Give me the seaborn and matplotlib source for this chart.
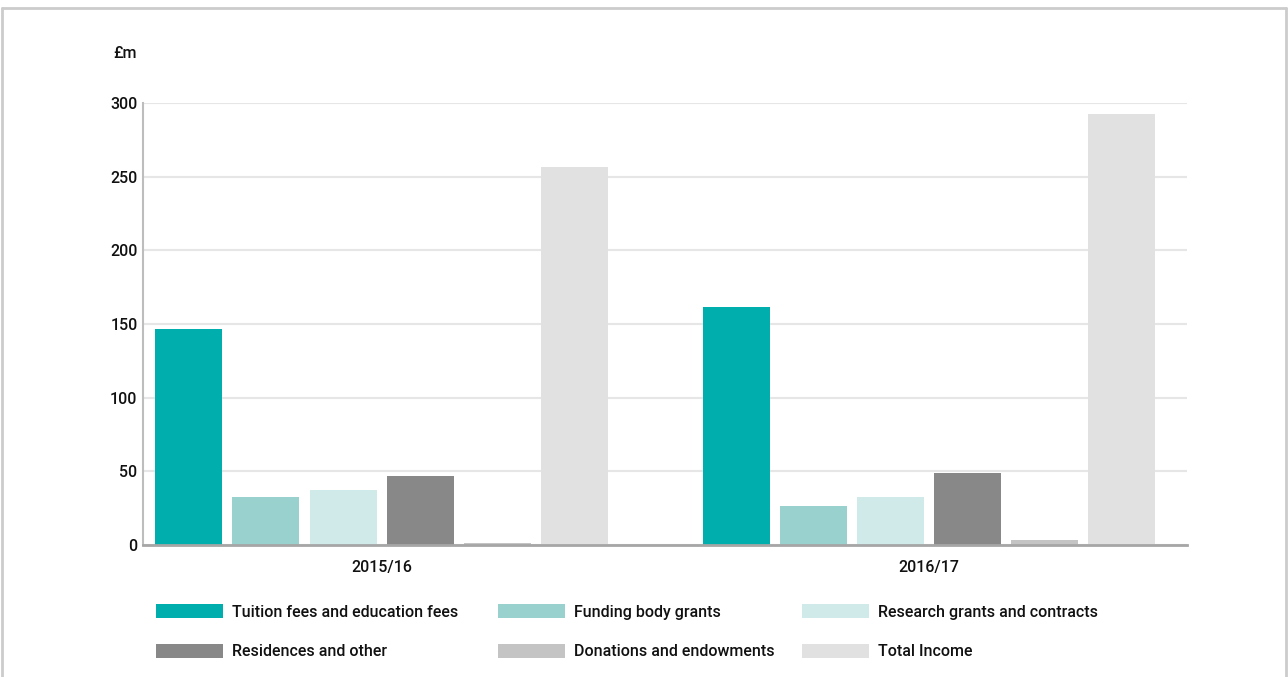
import matplotlib
matplotlib.use("Agg")
import matplotlib.pyplot as plt
from matplotlib.patches import Patch
from matplotlib.lines import Line2D
import seaborn as sns
import pandas as pd

years = ["2015/16", "2016/17"]
categories = [
    "Tuition fees and education fees",
    "Funding body grants",
    "Research grants and contracts",
    "Residences and other",
    "Donations and endowments",
    "Total Income",
]
tuition = [146.3, 161.5]
funding = [32.7, 26.5]
research = [37.0, 32.7]
residences = [46.9, 48.8]
donations = [1.2, 3.1]
total = [256.4, 292.4]
y_ticks = [0, 50, 100, 150, 200, 250, 300]
unit_label = "£m"

colors = ["#00AFAD", "#99D1CF", "#D0E9E9", "#888888", "#C4C4C4", "#E1E1E1"]

series = [tuition, funding, research, residences, donations, total]
rows = []
for cat, vals in zip(categories, series):
    for yr, v in zip(years, vals):
        rows.append({"year": yr, "category": cat, "value": v})
df = pd.DataFrame(rows)

sns.set_theme(style="white")
plt.rcParams["font.family"] = ["Roboto", "DejaVu Sans"]
plt.rcParams["font.weight"] = 500

fig = plt.figure(figsize=(12.88, 6.77), dpi=100)
ax = fig.add_axes([143 / 1288, 132 / 677, 1044 / 1288, 442 / 677])

sns.barplot(data=df, x="year", y="value", hue="category", hue_order=categories,
            order=years, palette=colors, saturation=1, width=0.844, gap=0.13,
            legend=False, ax=ax, linewidth=0)

ax.set_xlim(-0.4356, 1.471)
ax.set_ylim(0, 300)
ax.set_yticks(y_ticks)
ax.set_yticklabels([str(t) for t in y_ticks], fontsize=11.5, color="#111111")
ax.set_xlabel("")
ax.set_ylabel("")
ax.tick_params(axis="both", length=0)
ax.tick_params(axis="y", pad=4)
ax.tick_params(axis="x", pad=11, labelsize=11.5, labelcolor="#111111")
ax.yaxis.grid(True, color="#E6E6E6", linewidth=1.5)
ax.xaxis.grid(False)
ax.set_axisbelow(True)
for s in ["top", "right"]:
    ax.spines[s].set_visible(False)
ax.spines["left"].set_color("#BDBDBD")
ax.spines["left"].set_linewidth(1.5)
ax.spines["bottom"].set_color("#A6A6A6")
ax.spines["bottom"].set_linewidth(2)

fig.text(113 / 1288, 1 - 53 / 677, unit_label, fontsize=11.5, color="#111111",
         ha="left", va="center")

# legends, one per column
col_x = [156, 498, 802]
for c in range(3):
    idx = [c, c + 3]
    handles = [Patch(facecolor=colors[i], edgecolor="none") for i in idx]
    labels = [categories[i] for i in idx]
    leg = fig.legend(handles, labels, loc="upper left",
                     bbox_to_anchor=(col_x[c] / 1288, 1 - 604 / 677),
                     frameon=False, fontsize=11.5, borderpad=0, borderaxespad=0,
                     handlelength=4.2, handleheight=1.0, handletextpad=0.55,
                     labelspacing=1.5)
    for t in leg.get_texts():
        t.set_color("#111111")

# outer frame (top, left, right)
fc = "#CCCCCC"
fig.add_artist(Line2D([2 / 1288, 1286 / 1288], [1 - 8 / 677, 1 - 8 / 677], color=fc, lw=2))
fig.add_artist(Line2D([2 / 1288, 2 / 1288], [0, 1 - 8 / 677], color=fc, lw=2))
fig.add_artist(Line2D([1286 / 1288, 1286 / 1288], [0, 1 - 8 / 677], color=fc, lw=2))

fig.savefig("out.png", dpi=100)
